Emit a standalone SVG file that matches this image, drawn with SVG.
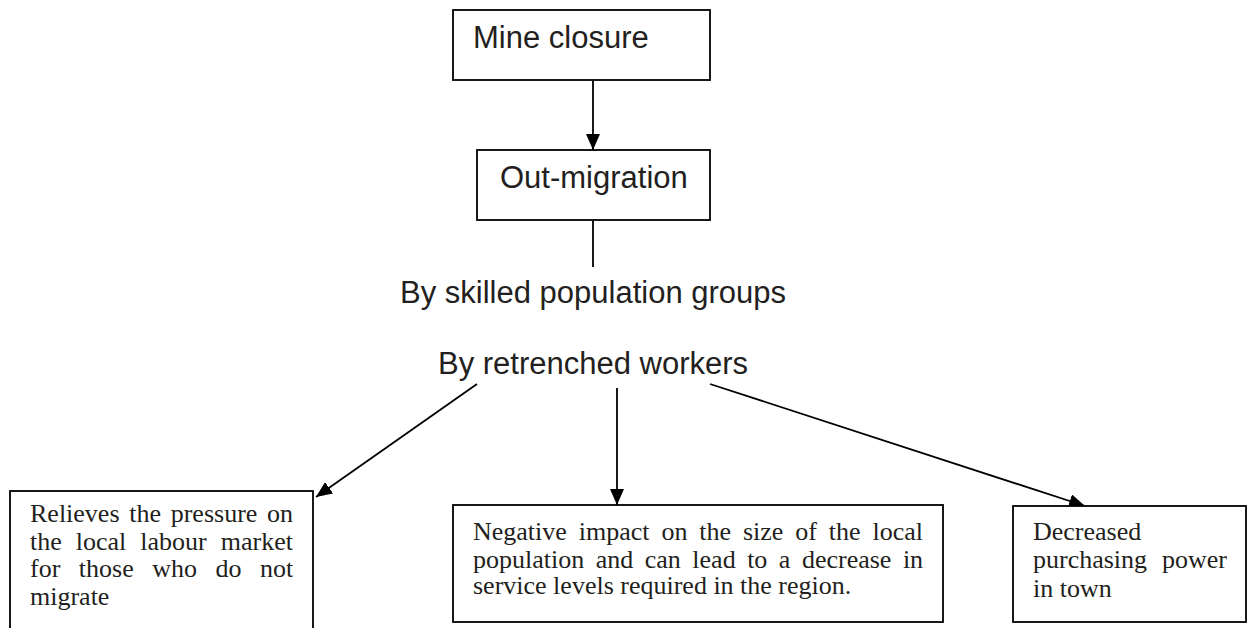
<svg xmlns="http://www.w3.org/2000/svg" width="1247" height="628" viewBox="0 0 1247 628">
  <style>
    .box { fill: #ffffff; stroke: #000000; stroke-width: 1.8; }
    .conn { fill: none; stroke: #000000; stroke-width: 1.8; }
    .sans { font-family: "Liberation Sans", Arial, sans-serif; font-size: 31px; fill: #231f20; }
    .serif { font-family: "Liberation Serif", "Times New Roman", serif; font-size: 26px; fill: #231f20; }
  </style>
  <defs>
    <marker id="arrow" markerUnits="userSpaceOnUse" markerWidth="16" markerHeight="14" refX="16" refY="7" orient="auto">
      <path d="M0,0 L16,7 L0,14 Z" fill="#000000"/>
    </marker>
  </defs>

  <rect width="1247" height="628" fill="#ffffff"/>

  <!-- connectors -->
  <g id="connectors">
    <line class="conn" x1="593" y1="80" x2="593" y2="150" marker-end="url(#arrow)"/>
    <line class="conn" x1="593" y1="220" x2="593" y2="267"/>
    <line class="conn" x1="477" y1="384" x2="316" y2="497" marker-end="url(#arrow)"/>
    <line class="conn" x1="617" y1="388" x2="617" y2="505" marker-end="url(#arrow)"/>
    <line class="conn" x1="710" y1="384" x2="1085" y2="506" marker-end="url(#arrow)"/>
  </g>

  <!-- top of the chain -->
  <g id="mine-closure">
    <rect class="box" x="453" y="10" width="257" height="70"/>
    <text class="sans" x="473" y="48">Mine closure</text>
  </g>

  <g id="out-migration">
    <rect class="box" x="477" y="150" width="233" height="70"/>
    <text class="sans" x="500" y="188">Out-migration</text>
  </g>

  <g id="skilled-groups">
    <text class="sans" x="400" y="303">By skilled population groups</text>
  </g>

  <g id="retrenched-workers">
    <text class="sans" x="438" y="374">By retrenched workers</text>
  </g>

  <!-- consequences -->
  <g id="labour-market">
    <rect class="box" x="10" y="491" width="303" height="150"/>
    <text class="serif" x="30" y="522" word-spacing="3.2">Relieves the pressure on</text>
    <text class="serif" x="30" y="550" word-spacing="7.5">the local labour market</text>
    <text class="serif" x="30" y="577" word-spacing="12">for those who do not</text>
    <text class="serif" x="30" y="605">migrate</text>
  </g>

  <g id="population-size">
    <rect class="box" x="453" y="505" width="490" height="117"/>
    <text class="serif" x="473" y="540" word-spacing="5.4">Negative impact on the size of the local</text>
    <text class="serif" x="473" y="568" word-spacing="5">population and can lead to a decrease in</text>
    <text class="serif" x="473" y="594">service levels required in the region.</text>
  </g>

  <g id="purchasing-power">
    <rect class="box" x="1013" y="506" width="233" height="116"/>
    <text class="serif" x="1033" y="540">Decreased</text>
    <text class="serif" x="1033" y="568" word-spacing="8.4">purchasing power</text>
    <text class="serif" x="1033" y="597">in town</text>
  </g>
</svg>
